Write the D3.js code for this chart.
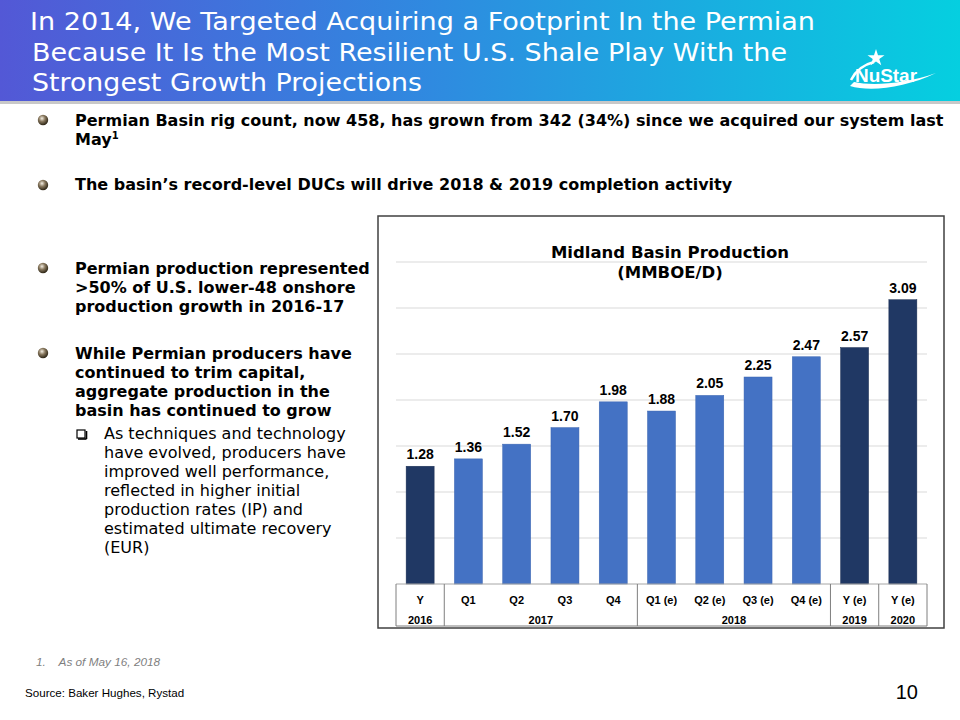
<!DOCTYPE html>
<html><head><meta charset="utf-8">
<script src="https://cdn.jsdelivr.net/npm/d3@7"></script>
<style>body{margin:0;background:#fff}svg{display:block}</style>
</head><body><svg id="c" width="960" height="720"></svg>
<script>
// ---- data ----
const categories = ["Y","Q1","Q2","Q3","Q4","Q1 (e)","Q2 (e)","Q3 (e)","Q4 (e)","Y (e)","Y (e)"];
const values = [1.28,1.36,1.52,1.70,1.98,1.88,2.05,2.25,2.47,2.57,3.09];
const periodType = ["annual","quarter","quarter","quarter","quarter","quarter","quarter","quarter","quarter","annual","annual"];
const yearLabels = ["2016","2017","2018","2019","2020"];
const yearSpans = [1,4,4,1,1];
const gridTicks = [0.5,1,1.5,2,2.5,3,3.5];
const titleLines = ["In 2014, We Targeted Acquiring a Footprint In the Permian","Because It Is the Most Resilient U.S. Shale Play With the","Strongest Growth Projections"];
const titleWidths = [785, 755, 390];
const chartTitle = ["Midland Basin Production","(MMBOE/D)"];

const svg = d3.select("#c");
const defs = svg.append("defs");
const hg = defs.append("linearGradient").attr("id","hg");
hg.append("stop").attr("offset","0%").attr("stop-color","#5358d6");
hg.append("stop").attr("offset","45%").attr("stop-color","#2f8ae0");
hg.append("stop").attr("offset","100%").attr("stop-color","#05cfe0");
const bg = defs.append("radialGradient").attr("id","bul").attr("cx","40%").attr("cy","35%").attr("r","65%");
bg.append("stop").attr("offset","0%").attr("stop-color","#f4efe4");
bg.append("stop").attr("offset","45%").attr("stop-color","#8a7a60");
bg.append("stop").attr("offset","100%").attr("stop-color","#2e2616");

// header
svg.append("rect").attr("x",0).attr("y",100).attr("width",960).attr("height",4).attr("fill","#c8c8c8");
svg.append("rect").attr("x",0).attr("y",0).attr("width",960).attr("height",101).attr("fill","url(#hg)");
svg.append("g").selectAll("text").data(titleLines).join("text")
  .attr("x",(d,i)=>i===0?30:32).attr("y",(d,i)=>30+i*30.5)
  .attr("fill","#fff").attr("font-family","'DejaVu Sans',Verdana,sans-serif")
  .attr("font-size",25.5).attr("textLength",(d,i)=>titleWidths[i]).attr("lengthAdjust","spacingAndGlyphs").text(d=>d);

// logo
const logo = svg.append("g");
logo.append("path").attr("d","M850,86 C870,92 905,88 936,73 C905,84 872,86 854,82 Z").attr("fill","#fff");
logo.append("path").attr("d",d3.symbol(d3.symbolStar,90)()).attr("transform","translate(876,58)").attr("fill","#fff");
logo.append("path").attr("d","M874,62 Q858,66 851,80").attr("stroke","#fff").attr("stroke-width",2.5).attr("fill","none");
logo.append("text").attr("x",855).attr("y",82).attr("fill","#fff").attr("font-family","'Liberation Sans',sans-serif")
  .attr("font-weight","bold").attr("font-size",19).attr("textLength",62).attr("lengthAdjust","spacingAndGlyphs").text("NuStar");

// bullets
function bullet(x,y){svg.append("circle").attr("cx",x).attr("cy",y).attr("r",5.2).attr("fill","url(#bul)");}
const bfont = "'DejaVu Sans',Verdana,sans-serif";
function btext(x,y,lines,bold,step){
  const t = svg.append("text").attr("x",x).attr("y",y).attr("font-family",bfont).attr("font-size",16)
    .attr("font-weight",bold?"bold":"normal").attr("fill","#000");
  lines.forEach((l,i)=>t.append("tspan").attr("x",x).attr("y",y+i*step).text(l));
  return t;
}
bullet(43,120); btext(75,126,["Permian Basin rig count, now 458, has grown from 342 (34%) since we acquired our system last"],true,19.5);
const may = svg.append("text").attr("x",75).attr("y",145).attr("font-family",bfont).attr("font-size",16).attr("font-weight","bold");
may.append("tspan").text("May");
may.append("tspan").attr("font-size",10).attr("dy",-6).text("1");
bullet(43,185); btext(75,190,["The basin\u2019s record-level DUCs will drive 2018 & 2019 completion activity"],true,19.5);
bullet(43,268); btext(75,274,["Permian production represented",">50% of U.S. lower-48 onshore","production growth in 2016-17"],true,18.8);
bullet(43,353); btext(75,359,["While Permian producers have","continued to trim capital,","aggregate production in the","basin has continued to grow"],true,19);
svg.append("rect").attr("x",77).attr("y",430).attr("width",8).attr("height",8).attr("fill","none").attr("stroke","#000").attr("stroke-width",1.2);
svg.append("line").attr("x1",78).attr("x2",86.5).attr("y1",439).attr("y2",439).attr("stroke","#000").attr("stroke-width",1.6);
svg.append("line").attr("x1",86.5).attr("x2",86.5).attr("y1",431).attr("y2",439).attr("stroke","#000").attr("stroke-width",1.6);
btext(104,439,["As techniques and technology","have evolved, producers have","improved well performance,","reflected in higher initial","production rates (IP) and","estimated ultimate recovery","(EUR)"],false,19);

// footnotes
svg.append("text").attr("x",36).attr("y",666).attr("font-family","'Liberation Sans',sans-serif").attr("font-style","italic")
  .attr("font-size",11.8).attr("fill","#7f7f7f").attr("xml:space","preserve").text("1.    As of May 16, 2018");
svg.append("text").attr("x",25).attr("y",697).attr("font-family","'Liberation Sans',sans-serif")
  .attr("font-size",11.6).attr("fill","#000").text("Source: Baker Hughes, Rystad");
svg.append("text").attr("x",918).attr("y",699).attr("text-anchor","end").attr("font-family","'Liberation Sans',sans-serif")
  .attr("font-size",20).attr("fill","#000").text("10");

// chart frame
svg.append("rect").attr("x",378).attr("y",216).attr("width",566).attr("height",412).attr("fill","#fff").attr("stroke","#404040").attr("stroke-width",1.5);

const x0 = 396, x1 = 927, yBase = 584, yTop = 262;
const x = d3.scaleBand().domain(d3.range(categories.length)).range([x0,x1]).paddingInner(0.42).paddingOuter(0.21);
const y = d3.scaleLinear().domain([0,3.5]).range([yBase,yTop]);

svg.append("g").selectAll("line").data(gridTicks).join("line")
  .attr("x1",x0).attr("x2",x1).attr("y1",d=>y(d)).attr("y2",d=>y(d)).attr("stroke","#d9d9d9").attr("stroke-width",1);

svg.append("g").selectAll("rect").data(values).join("rect")
  .attr("x",(d,i)=>x(i)).attr("width",x.bandwidth()).attr("y",d=>y(d)).attr("height",d=>yBase-y(d))
  .attr("fill",(d,i)=>periodType[i]==="annual"?"#203864":"#4472c4")
  .attr("stroke",(d,i)=>periodType[i]==="annual"?"#1a2e52":"#3a64b0").attr("stroke-width",0.5);

const lfont = "'Liberation Sans',Arial,sans-serif";
svg.append("g").selectAll("text").data(values).join("text")
  .attr("x",(d,i)=>x(i)+x.bandwidth()/2).attr("y",d=>y(d)-7).attr("text-anchor","middle")
  .attr("font-family",lfont).attr("font-weight","bold").attr("font-size",14).attr("fill","#000")
  .text(d=>d.toFixed(2));

svg.append("g").selectAll("text").data(chartTitle).join("text")
  .attr("x",670).attr("y",(d,i)=>258+i*20).attr("text-anchor","middle")
  .attr("font-family",bfont).attr("font-weight","bold").attr("font-size",16.5).attr("fill","#000").text(d=>d);

// category table
const tb = svg.append("g").attr("stroke","#7f7f7f").attr("stroke-width",1);
tb.append("line").attr("x1",x0).attr("x2",x1).attr("y1",yBase).attr("y2",yBase).attr("stroke","#a6a6a6");
tb.append("line").attr("x1",x0).attr("x2",x1).attr("y1",626).attr("y2",626);
let acc = 0; const bounds=[0];
yearSpans.forEach(s=>{acc+=s;bounds.push(acc);});
const bx = i => x0 + (x1-x0)*i/categories.length;
tb.selectAll(".v").data(bounds).join("line").attr("x1",d=>bx(d)).attr("x2",d=>bx(d)).attr("y1",yBase).attr("y2",626);
svg.append("g").selectAll("text").data(categories).join("text")
  .attr("x",(d,i)=>x(i)+x.bandwidth()/2).attr("y",604).attr("text-anchor","middle")
  .attr("font-family",lfont).attr("font-weight","bold").attr("font-size",11).text(d=>d);
svg.append("g").selectAll("text").data(yearLabels).join("text")
  .attr("x",(d,i)=>(bx(bounds[i])+bx(bounds[i+1]))/2).attr("y",624).attr("text-anchor","middle")
  .attr("font-family",lfont).attr("font-weight","bold").attr("font-size",11).text(d=>d);
</script></body></html>
